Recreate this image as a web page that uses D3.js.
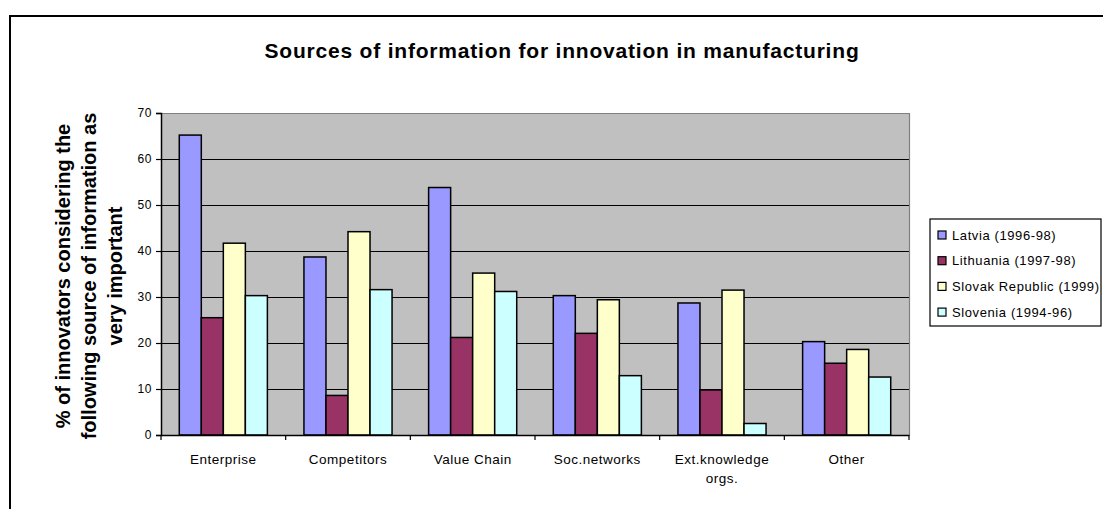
<!DOCTYPE html>
<html><head><meta charset="utf-8">
<script src="https://cdn.jsdelivr.net/npm/d3@7"></script>
<style>
html,body{margin:0;padding:0;background:#fff;}
svg{display:block;font-family:"Liberation Sans",Arial,sans-serif;}
</style></head>
<body><svg id="chart" width="1103" height="509"></svg>
<script>
const categories = ["Enterprise","Competitors","Value Chain","Soc.networks","Ext.knowledge orgs.","Other"];
const categoryLines = [["Enterprise"],["Competitors"],["Value Chain"],["Soc.networks"],["Ext.knowledge","orgs."],["Other"]];
const seriesNames = ["Latvia (1996-98)","Lithuania (1997-98)","Slovak Republic (1999)","Slovenia (1994-96)"];
const latvia    = [65.2, 38.7, 53.8, 30.3, 28.7, 20.3];
const lithuania = [25.5,  8.6, 21.2, 22.1,  9.8, 15.6];
const slovak    = [41.7, 44.2, 35.2, 29.4, 31.5, 18.6];
const slovenia  = [30.3, 31.6, 31.2, 12.9,  2.5, 12.6];
const yTicks = [0,10,20,30,40,50,60,70];
const colors = ["#9999FF","#993366","#FFFFCC","#CCFFFF"];
const titleText = "Sources of information for innovation in manufacturing";
const yTitleLines = ["% of innovators considering the","following source of information as","very important"];

const seriesValues = [latvia, lithuania, slovak, slovenia];
const svg = d3.select("#chart");

// outer frame
svg.append("rect").attr("x",10).attr("y",16).attr("width",1200).attr("height",600)
  .attr("fill","#fff").attr("stroke","#000").attr("stroke-width",2);

const plot = {left:161, top:113, right:909, bottom:435};
const x = d3.scaleBand().domain(categories).range([plot.left, plot.right]).padding(0);
const xs = d3.scaleBand().domain(seriesNames).range([0, x.bandwidth()]).paddingInner(0).paddingOuter(0.83);
const y = d3.scaleLinear().domain([0,70]).range([plot.bottom, plot.top]);

// plot background
svg.append("rect").attr("x",plot.left).attr("y",plot.top)
  .attr("width",plot.right-plot.left).attr("height",plot.bottom-plot.top)
  .attr("fill","#C0C0C0");

// gridlines
svg.append("g").selectAll("line").data(yTicks.filter(d=>d>0 && d<70)).join("line")
  .attr("x1",plot.left).attr("x2",plot.right)
  .attr("y1",d=>Math.round(y(d))+0.5).attr("y2",d=>Math.round(y(d))+0.5)
  .attr("stroke","#000").attr("stroke-width",1.2);

// plot border top/right gray
svg.append("path")
  .attr("d",`M${plot.left},${plot.top+0.5}H${plot.right+0.5}V${plot.bottom}`)
  .attr("fill","none").attr("stroke","#808080").attr("stroke-width",1.2);

// bars
const groups = svg.append("g").selectAll("g").data(seriesValues).join("g")
  .attr("fill",(d,i)=>colors[i]);
groups.each(function(vals,si){
  d3.select(this).selectAll("rect").data(vals).join("rect")
    .attr("x",(d,ci)=>x(categories[ci])+xs(seriesNames[si]))
    .attr("width",xs.bandwidth())
    .attr("y",d=>y(d))
    .attr("height",d=>y(0)-y(d))
    .attr("stroke","#000").attr("stroke-width",1.5);
});

// y axis
const yAxis = d3.axisLeft(y).tickValues(yTicks).tickSize(5).tickPadding(4);
const gy = svg.append("g").attr("transform",`translate(${plot.left},0)`).call(yAxis);
gy.select(".domain").attr("stroke","#000").attr("stroke-width",1.5);
gy.selectAll(".tick line").attr("stroke","#000").attr("stroke-width",1.2);
gy.selectAll(".tick text").attr("font-size",12).attr("fill","#000")
  .attr("font-family","'Liberation Sans',Arial,sans-serif").style("letter-spacing","0.6px");

// x axis
const xAxis = d3.axisBottom(x).tickSize(0).tickFormat("");
const gx = svg.append("g").attr("transform",`translate(0,${plot.bottom})`).call(xAxis);
gx.select(".domain").attr("stroke","#000").attr("stroke-width",1.5);
// category separator ticks
svg.append("g").selectAll("line").data(d3.range(categories.length+1)).join("line")
  .attr("x1",i=>plot.left + i*x.step()).attr("x2",i=>plot.left + i*x.step())
  .attr("y1",plot.bottom).attr("y2",plot.bottom+5)
  .attr("stroke","#000").attr("stroke-width",1.2);

// x labels
svg.append("g").selectAll("text").data(categories).join("text")
  .attr("x",d=>x(d)+x.bandwidth()/2).attr("y",464)
  .attr("text-anchor","middle").attr("font-size",13.5).style("letter-spacing","0.5px")
  .each(function(d,i){
    const t=d3.select(this);
    categoryLines[i].forEach((ln,k)=>{
      t.append("tspan").attr("x",x(d)+x.bandwidth()/2).attr("dy",k===0?0:19).text(ln);
    });
  });

// title
svg.append("text").attr("x",562).attr("y",58).attr("text-anchor","middle")
  .attr("font-size",21).attr("font-weight","bold").style("letter-spacing","0.8px").text(titleText);

// y title
const yt = svg.append("text").attr("transform","translate(70,276) rotate(-90)")
  .attr("text-anchor","middle").attr("font-size",20).attr("font-weight","bold");
yTitleLines.forEach((ln,k)=>{
  yt.append("tspan").attr("x",0).attr("dy",k===0?0:26).text(ln);
});

// legend
const lg = svg.append("g");
lg.append("rect").attr("x",930).attr("y",219).attr("width",171).attr("height",107)
  .attr("fill","#fff").attr("stroke","#000").attr("stroke-width",1.2);
seriesNames.forEach((s,i)=>{
  const cy = 235 + i*25.7;
  lg.append("rect").attr("x",938).attr("y",cy-4).attr("width",8).attr("height",8)
    .attr("fill",colors[i]).attr("stroke","#000").attr("stroke-width",1.2);
  lg.append("text").attr("x",952).attr("y",cy+4.5).attr("font-size",13)
    .style("letter-spacing","0.6px").text(s);
});
</script></body></html>
